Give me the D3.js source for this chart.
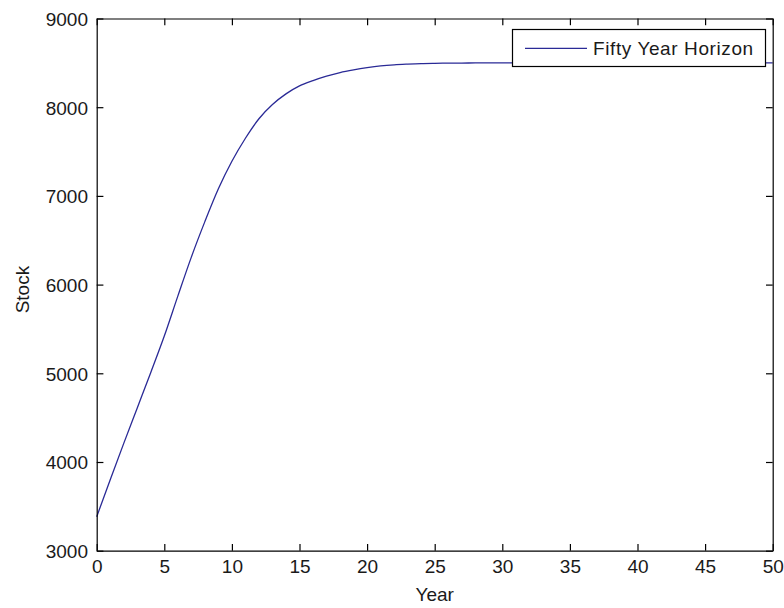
<!DOCTYPE html>
<html lang="en">
<head>
  <meta charset="UTF-8">
  <title>Stock over a Fifty Year Horizon</title>
  <style>
    body {
      margin: 0;
      padding: 0;
      background: #fff;
    }
    svg text {
      font-family: Arial, "Liberation Sans", sans-serif;
      font-size: 19px;
      fill: #1a1a1a;
    }
  </style>
</head>
<body>
  <div id="chart"></div>

  <script src="https://d3js.org/d3.v7.min.js"></script>
  <script>
    // data
    const years = d3.range(0, 51);
    const stock = [
      3383, 3800, 4210, 4610, 5010, 5420, 5870, 6310, 6710, 7080,
      7390, 7650, 7870, 8030, 8150, 8240, 8300, 8350, 8390, 8420,
      8445, 8465, 8478, 8486, 8492, 8495, 8497, 8498, 8499, 8500,
      8500, 8500, 8500, 8500, 8500, 8500, 8500, 8500, 8500, 8500,
      8500, 8500, 8500, 8500, 8500, 8500, 8500, 8500, 8500, 8500,
      8500
    ];
    const xTicks = [0, 5, 10, 15, 20, 25, 30, 35, 40, 45, 50];
    const yTicks = [3000, 4000, 5000, 6000, 7000, 8000, 9000];
    const seriesName = "Fifty Year Horizon";

    const W = 784, H = 608;
    const plotL = 96.7, plotR = 772.7, plotT = 18.5, plotB = 550.7;
    const tickLen = 6.7;

    const svg = d3.select("#chart")
      .append("svg")
      .attr("width", W)
      .attr("height", H);

    const x = d3.scaleLinear().domain([0, 50]).range([plotL, plotR]);
    const y = d3.scaleLinear().domain([3000, 9000]).range([plotB, plotT]);

    // the curve (drawn first, legend box sits on top of it)
    const line = d3.line()
      .x((d, i) => x(years[i]))
      .y(d => y(d))
      .curve(d3.curveMonotoneX);

    svg.append("path")
      .datum(stock)
      .attr("d", line)
      .attr("fill", "none")
      .attr("stroke", "#2a2a96")
      .attr("stroke-width", 1.3);

    // bottom axis (ticks point inward)
    const xAxis = svg.append("g")
      .attr("transform", `translate(0,${plotB})`)
      .call(d3.axisBottom(x).tickValues(xTicks).tickSize(-tickLen).tickPadding(tickLen + 7).tickSizeOuter(0));
    // left axis
    const yAxis = svg.append("g")
      .attr("transform", `translate(${plotL},0)`)
      .call(d3.axisLeft(y).tickValues(yTicks).tickFormat(d3.format("d")).tickSize(-tickLen).tickPadding(tickLen + 2).tickSizeOuter(0));
    // top & right mirror ticks, no labels
    const xTop = svg.append("g")
      .attr("transform", `translate(0,${plotT})`)
      .call(d3.axisTop(x).tickValues(xTicks).tickSize(-tickLen).tickFormat("").tickSizeOuter(0));
    const yRight = svg.append("g")
      .attr("transform", `translate(${plotR},0)`)
      .call(d3.axisRight(y).tickValues(yTicks).tickSize(-tickLen).tickFormat("").tickSizeOuter(0));

    [xAxis, yAxis, xTop, yRight].forEach(g => {
      g.attr("font-size", null).attr("font-family", null);
      g.select(".domain").attr("stroke", "#000").attr("stroke-width", 1.2);
      g.selectAll(".tick line").attr("stroke", "#000").attr("stroke-width", 1.2);
      g.selectAll(".tick text").attr("fill", null);
    });
    xAxis.selectAll(".tick text").attr("dy", "0.45em");
    yAxis.selectAll(".tick text").attr("dy", "0.36em");

    // axis titles
    svg.append("text")
      .attr("x", (plotL + plotR) / 2)
      .attr("y", 601)
      .attr("text-anchor", "middle")
      .text("Year");

    svg.append("text")
      .attr("transform", `translate(29,${(plotT + plotB) / 2 + 5}) rotate(-90)`)
      .attr("text-anchor", "middle")
      .text("Stock");

    // legend
    const lg = svg.append("g");
    lg.append("rect")
      .attr("x", 512.5).attr("y", 29.5)
      .attr("width", 253).attr("height", 37)
      .attr("fill", "#fff")
      .attr("stroke", "#000")
      .attr("stroke-width", 1.2);
    lg.append("line")
      .attr("x1", 525).attr("x2", 587)
      .attr("y1", 48.3).attr("y2", 48.3)
      .attr("stroke", "#2a2a96")
      .attr("stroke-width", 1.3);
    lg.append("text")
      .attr("x", 593)
      .attr("y", 55)
      .attr("letter-spacing", "0.6px")
      .text(seriesName);
  </script>
</body>
</html>
